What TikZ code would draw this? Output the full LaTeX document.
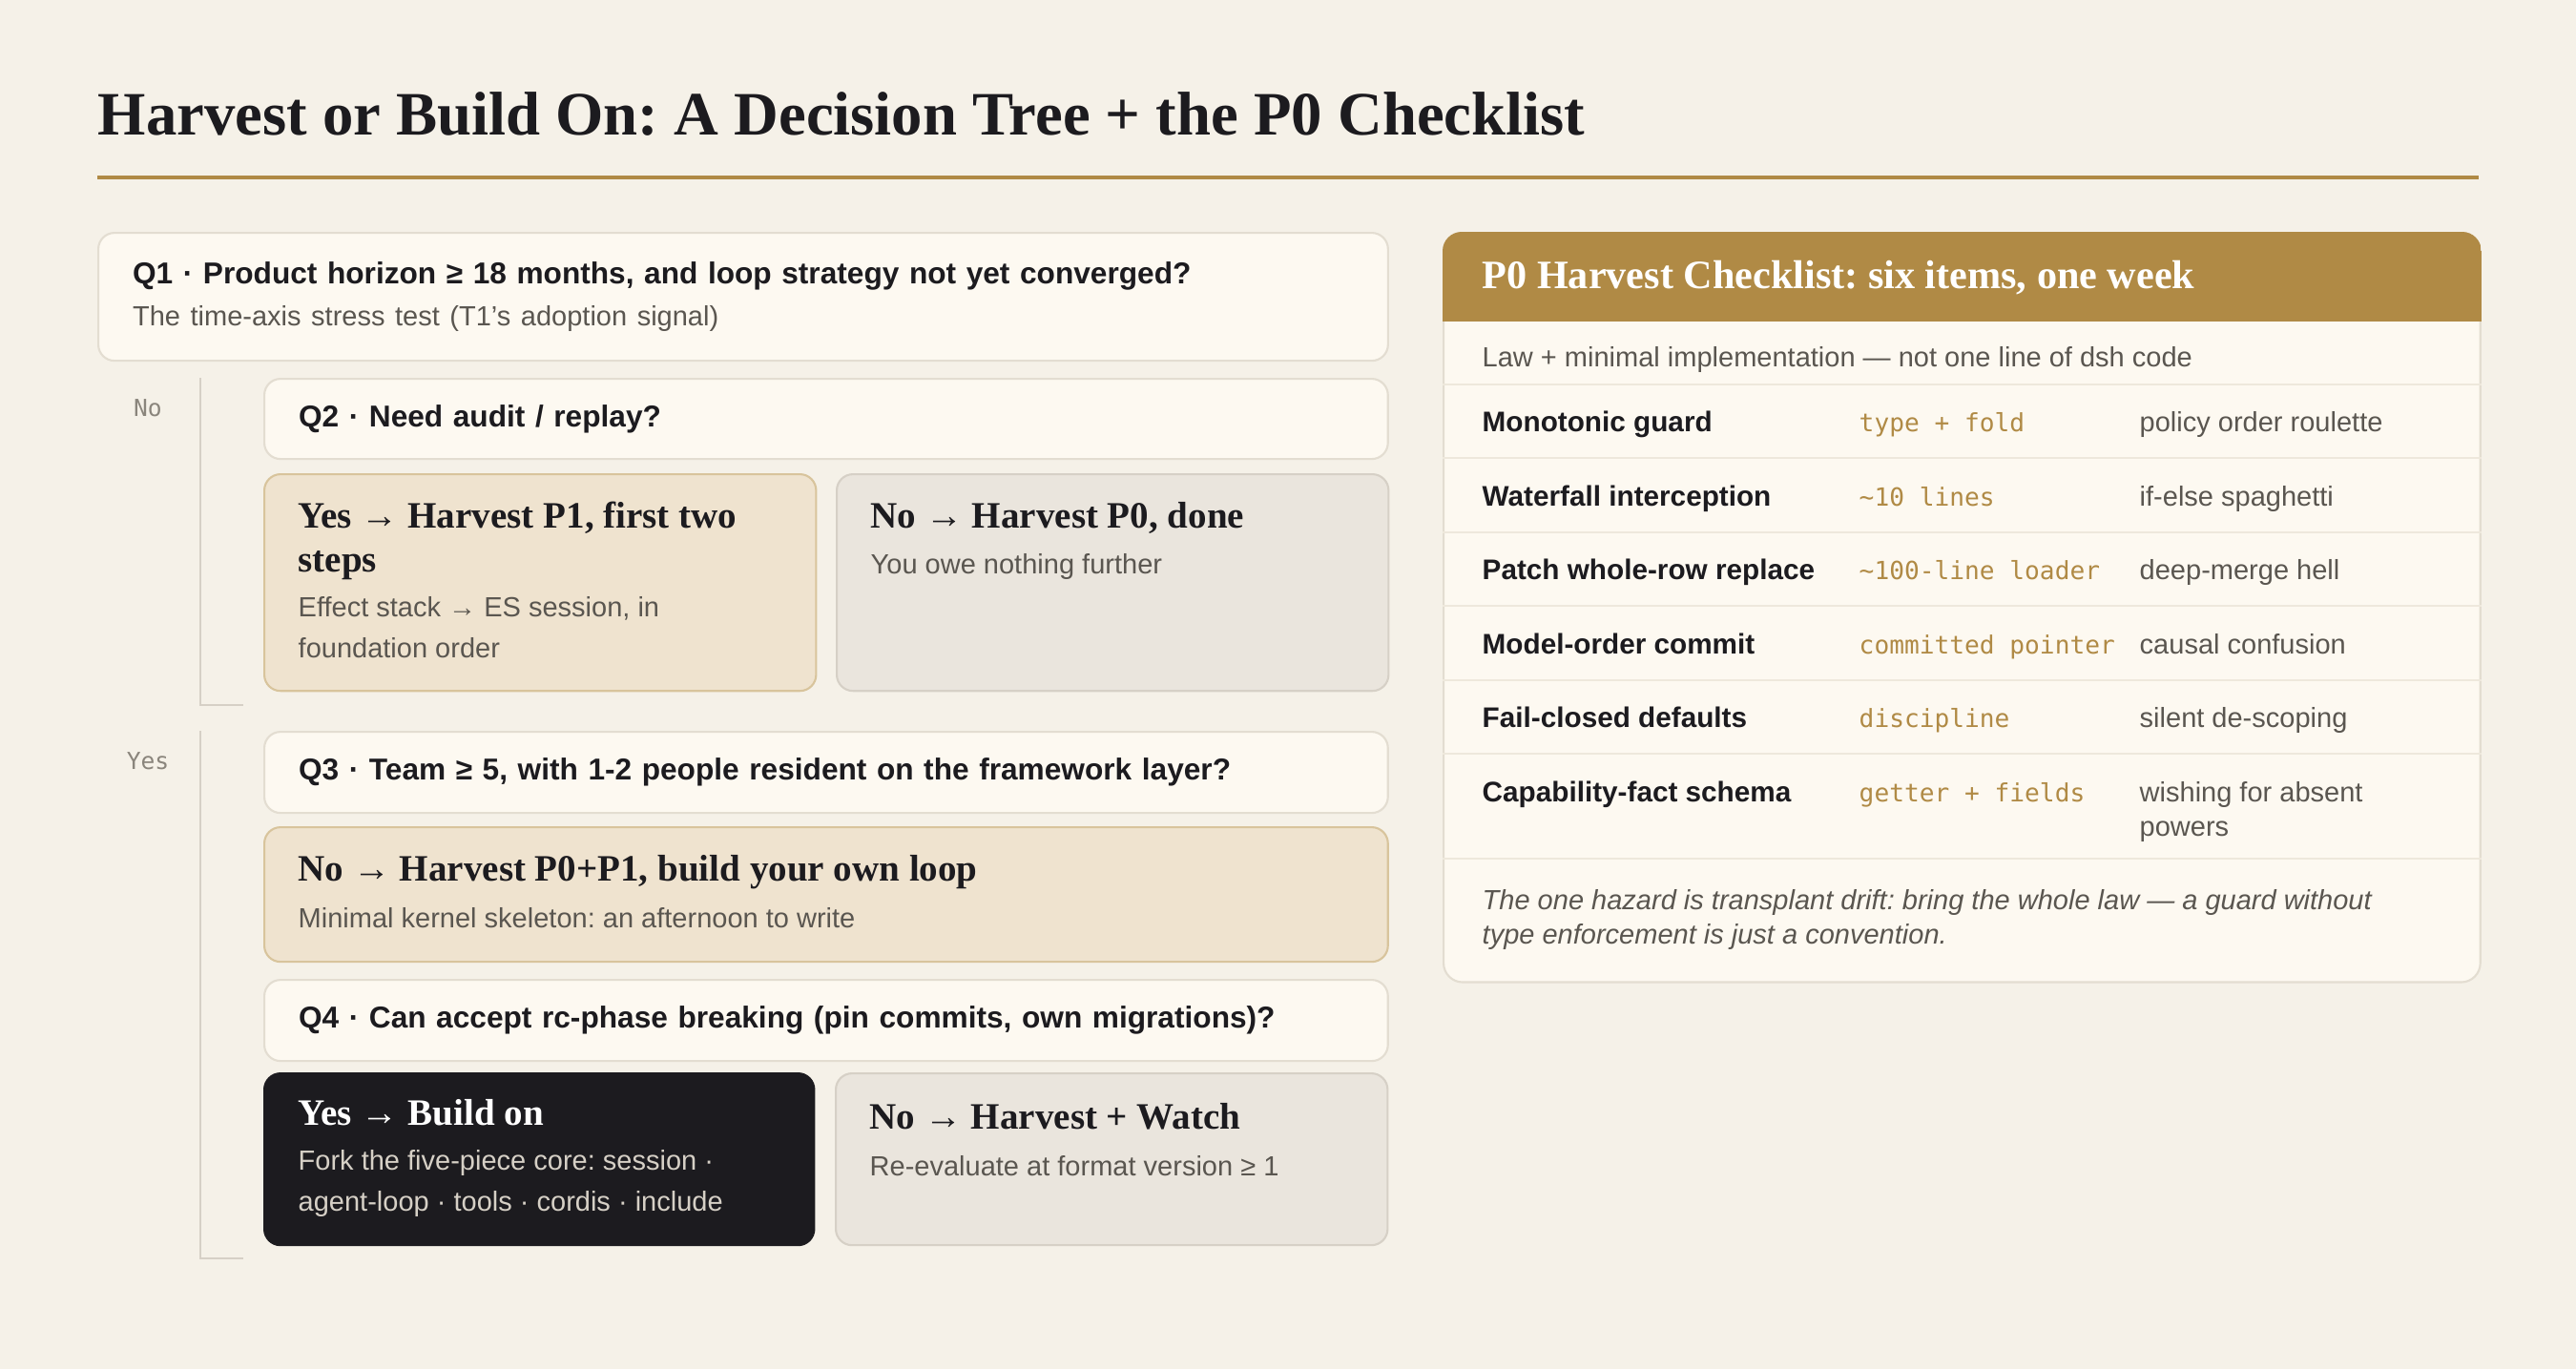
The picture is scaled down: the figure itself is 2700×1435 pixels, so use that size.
\documentclass[tikz,border=0pt]{standalone}
\usepackage{fontspec}
\setmainfont{Liberation Serif}
\setsansfont{Liberation Sans}
\setmonofont{DejaVu Sans Mono}
\usetikzlibrary{positioning,calc}
\frenchspacing

\definecolor{paper}{HTML}{F5F1E8}
\definecolor{cardfill}{HTML}{FDF9F1}
\definecolor{cardline}{HTML}{E3DDD1}
\definecolor{tanfill}{HTML}{EFE3CF}
\definecolor{tanline}{HTML}{D8C49C}
\definecolor{greyfill}{HTML}{EAE5DD}
\definecolor{greyline}{HTML}{D6D0C6}
\definecolor{darkfill}{HTML}{1C1B1F}
\definecolor{gold}{HTML}{B08A45}
\definecolor{ink}{HTML}{1C1B1F}
\definecolor{subgrey}{HTML}{5A5650}
\definecolor{labelgrey}{HTML}{8A857C}
\definecolor{rowline}{HTML}{EEE8DC}

\tikzset{
  every node/.style={inner sep=0pt},
  qbox/.style={draw=cardline, fill=cardfill, line width=0.6pt, rounded corners=0.17cm,
    anchor=north west, inner xsep=0.36cm, text width=11.05cm, align=left,
    font=\sffamily\bfseries\fontsize{9}{12.5}\selectfont, text=ink},
  outbox/.style={rounded corners=0.17cm, line width=0.6pt, anchor=north west, minimum width=5.78cm},
  tanbox/.style={outbox, draw=tanline, fill=tanfill},
  greybox/.style={outbox, draw=greyline, fill=greyfill},
  darkbox/.style={outbox, draw=darkfill, fill=darkfill},
  otitle/.style={anchor=base west, align=left, font=\bfseries\fontsize{11.1}{13}\selectfont, text=ink},
  osub/.style={anchor=base west, align=left, font=\sffamily\fontsize{8.25}{12.2}\selectfont, text=subgrey},
  branch/.style={anchor=base, font=\ttfamily\fontsize{7}{9}\selectfont, text=labelgrey},
  bracket/.style={draw=greyline, line width=0.7pt},
  lawtext/.style={anchor=base west, font=\sffamily\bfseries\fontsize{8.45}{10}\selectfont, text=ink},
  impltext/.style={anchor=base west, font=\ttfamily\fontsize{7.45}{10}\selectfont, text=gold},
  risktext/.style={anchor=base west, align=left, font=\sffamily\fontsize{8.25}{10.2}\selectfont, text=subgrey}
}

\begin{document}
\begin{tikzpicture}[x=0.01cm, y=-0.01cm]
\path[fill=paper] (0,0) rectangle (2700,1435);

\node[anchor=base west, font=\bfseries\fontsize{18.4}{22}\selectfont, text=ink] (title) at (102,141)
  {Harvest or Build On: A Decision Tree + the P0 Checklist};
\draw[gold, line width=1.4pt] (102,186) -- (2598,186);

% decision tree
\node[qbox, text width=12.79cm, minimum height=1.34cm] (q1) at (102,243)
  {Q1 · Product horizon ≥ 18 months, and loop strategy not yet converged?\\
   {\mdseries\color{subgrey}\fontsize{8.25}{9}\selectfont The time-axis stress test (T1's adoption signal)}};

\node[branch] (noL) at (155,436) {No};
\node[qbox, minimum height=0.84cm] (q2) at (276,396) {Q2 · Need audit / replay?};
\node[tanbox, minimum height=2.27cm] (p1yes) at (276,496) {};
\node[greybox, minimum height=2.27cm] (p0no) at (876,496) {};
% multi-line nodes sit on their last line
\node[otitle] (p1yesT) at ($(p1yes.north west)+(36,103)$) {Yes → Harvest P1, first two\\steps};
\node[osub] (p1yesS) at ($(p1yes.north west)+(36,193)$) {Effect stack → ES session, in\\foundation order};
\node[otitle] (p0noT) at ($(p0no.north west)+(36,57)$) {No → Harvest P0, done};
\node[osub] (p0noS) at ($(p0no.north west)+(36,105)$) {You owe nothing further};
\draw[bracket] ($(q2.north west)+(-66,0)$) |- ($(p1yes.south west)+(-21,14)$);

\node[branch] (yesL) at (155,806) {Yes};
\node[qbox, minimum height=0.85cm] (q3) at (276,766) {Q3 · Team ≥ 5, with 1-2 people resident on the framework layer?};
\node[tanbox, minimum width=11.77cm, minimum height=1.41cm] (p01) at (276,866) {};
\node[otitle] (p01T) at ($(p01.north west)+(36,57)$) {No → Harvest P0+P1, build your own loop};
\node[osub] (p01S) at ($(p01.north west)+(36,106)$) {Minimal kernel skeleton: an afternoon to write};
\node[qbox, minimum height=0.85cm] (q4) at (276,1026) {Q4 · Can accept rc-phase breaking (pin commits, own migrations)?};
\node[darkbox, minimum width=5.76cm, minimum height=1.80cm] (build) at (276,1124) {};
\node[greybox, minimum height=1.80cm] (watch) at (875,1124) {};
\node[otitle, text=white] (buildT) at ($(build.north west)+(36,55)$) {Yes → Build on};
\node[osub, text=greyline] (buildS) at ($(build.north west)+(36,145)$) {Fork the five-piece core: session ·\\agent-loop · tools · cordis · include};
\node[otitle] (watchT) at ($(watch.north west)+(36,59)$) {No → Harvest + Watch};
\node[osub] (watchS) at ($(watch.north west)+(36,108)$) {Re-evaluate at format version ≥ 1};
\draw[bracket] ($(q3.north west)+(-66,0)$) |- ($(build.south west)+(-21,13)$);

% checklist panel
\node[draw=cardline, fill=cardfill, line width=0.6pt, rounded corners=0.2cm, anchor=north west,
  minimum width=10.86cm, minimum height=7.85cm] (chk) at (1512,243) {};
\begin{scope}
  \clip[rounded corners=0.2cm] (chk.north west) rectangle (chk.south east);
  \fill[gold] (chk.north west) rectangle ($(chk.north east)+(0,94)$);
\end{scope}
\node[anchor=base west, font=\bfseries\fontsize{12}{14}\selectfont, text=white] (chkT) at (1553,302)
  {P0 Harvest Checklist: six items, one week};
\node[anchor=base west, font=\sffamily\fontsize{8.25}{9}\selectfont, text=subgrey] (chkS) at (1553,384)
  {Law + minimal implementation — not one line of dsh code};
\foreach \y in {403,480,558,635,713,790,900}
  \draw[rowline, line width=0.7pt] (chk.west |- 0,\y) -- (chk.east |- 0,\y);
\foreach \y/\law/\impl/\risk [count=\i] in {
    452/Monotonic guard/type + fold/policy order roulette,
    530/Waterfall interception/\textasciitilde10 lines/if-else spaghetti,
    607/Patch whole-row replace/\textasciitilde100-line loader/deep-merge hell,
    685/Model-order commit/committed pointer/causal confusion,
    762/Fail-closed defaults/discipline/silent de-scoping}
{
  \node[lawtext] (law\i) at (1553,\y) {\law};
  \node[impltext] (impl\i) at (1948,\y) {\impl};
  \node[risktext] (risk\i) at (2242,\y) {\risk};
}
\node[lawtext] (law6) at (1553,840) {Capability-fact schema};
\node[impltext] (impl6) at (1948,840) {getter + fields};
\node[risktext] (risk6) at (2242,876) {wishing for absent\\powers};
\node[anchor=base west, align=left, font=\sffamily\itshape\fontsize{8.25}{10}\selectfont, text=subgrey] (chkF) at (1553,989)
  {The one hazard is transplant drift: bring the whole law — a guard without\\type enforcement is just a convention.};
\end{tikzpicture}
\end{document}
